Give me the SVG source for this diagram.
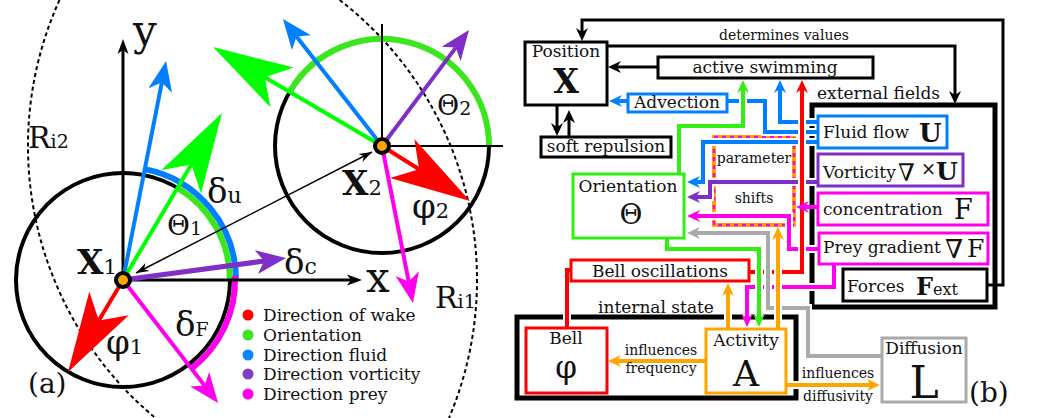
<svg xmlns="http://www.w3.org/2000/svg" width="1037" height="418" viewBox="0 0 1037 418">
<style>
text{font-family:"DejaVu Serif","Liberation Serif",serif;fill:#111}
.s17{font-size:17px}
.s14{font-size:14px}
.c{text-anchor:middle}
.bf{font-weight:bold}
.halo{fill:none;stroke:#fff;stroke-width:8}
.w{fill:none;stroke-width:4}
.wb{fill:none;stroke:#000;stroke-width:3}
.box{fill:#fff;stroke-width:3}
.frame{fill:none;stroke:#000;stroke-width:5}
.arrowA{fill:none;stroke-width:4}
</style>
<defs>
<marker id="mBk" viewBox="0 -7 14 14" refX="5" refY="0" markerWidth="14" markerHeight="14" markerUnits="userSpaceOnUse" orient="auto"><path d="M13,0 L0,-6 L4,0 L0,6 Z" fill="#000"/></marker>
<marker id="mBl" viewBox="0 -7 14 14" refX="5" refY="0" markerWidth="14" markerHeight="14" markerUnits="userSpaceOnUse" orient="auto"><path d="M13,0 L0,-6 L4,0 L0,6 Z" fill="#0080ff"/></marker>
<marker id="mGr" viewBox="0 -7 14 14" refX="5" refY="0" markerWidth="14" markerHeight="14" markerUnits="userSpaceOnUse" orient="auto"><path d="M13,0 L0,-6 L4,0 L0,6 Z" fill="#33ee11"/></marker>
<marker id="mPu" viewBox="0 -7 14 14" refX="5" refY="0" markerWidth="14" markerHeight="14" markerUnits="userSpaceOnUse" orient="auto"><path d="M13,0 L0,-6 L4,0 L0,6 Z" fill="#7f2fc8"/></marker>
<marker id="mMa" viewBox="0 -7 14 14" refX="5" refY="0" markerWidth="14" markerHeight="14" markerUnits="userSpaceOnUse" orient="auto"><path d="M13,0 L0,-6 L4,0 L0,6 Z" fill="#ff00ee"/></marker>
<marker id="mRd" viewBox="0 -7 14 14" refX="5" refY="0" markerWidth="14" markerHeight="14" markerUnits="userSpaceOnUse" orient="auto"><path d="M13,0 L0,-6 L4,0 L0,6 Z" fill="#ff0000"/></marker>
<marker id="mOr" viewBox="0 -7 14 14" refX="5" refY="0" markerWidth="14" markerHeight="14" markerUnits="userSpaceOnUse" orient="auto"><path d="M13,0 L0,-6 L4,0 L0,6 Z" fill="#ffa500"/></marker>
<marker id="mGy" viewBox="0 -7 14 14" refX="5" refY="0" markerWidth="14" markerHeight="14" markerUnits="userSpaceOnUse" orient="auto"><path d="M13,0 L0,-6 L4,0 L0,6 Z" fill="#aaaaaa"/></marker>
<marker id="aBigG" viewBox="-20 -23 80 46" refX="0" refY="0" markerWidth="80" markerHeight="46" markerUnits="userSpaceOnUse" orient="auto"><path d="M60,0 L-20,-23 L0,0 L-20,23 Z" fill="#00ff00"/></marker>
<marker id="aBigR" viewBox="-20 -23 80 46" refX="0" refY="0" markerWidth="80" markerHeight="46" markerUnits="userSpaceOnUse" orient="auto"><path d="M60,0 L-20,-23 L0,0 L-20,23 Z" fill="#ff0000"/></marker>
<marker id="aBl" viewBox="-8 -12 30 24" refX="0" refY="0" markerWidth="30" markerHeight="24" markerUnits="userSpaceOnUse" orient="auto"><path d="M22,0 L-8,-12 L0,0 L-8,12 Z" fill="#0080ff"/></marker>
<marker id="aPu" viewBox="-8 -12 30 24" refX="0" refY="0" markerWidth="30" markerHeight="24" markerUnits="userSpaceOnUse" orient="auto"><path d="M22,0 L-8,-12 L0,0 L-8,12 Z" fill="#7f2fc8"/></marker>
<marker id="aMa" viewBox="-8 -12 30 24" refX="0" refY="0" markerWidth="30" markerHeight="24" markerUnits="userSpaceOnUse" orient="auto"><path d="M22,0 L-8,-12 L0,0 L-8,12 Z" fill="#ff00ee"/></marker>
<marker id="aAx" viewBox="-4 -6 15 12" refX="0" refY="0" markerWidth="15" markerHeight="12" markerUnits="userSpaceOnUse" orient="auto"><path d="M11,0 L-4,-5.5 L0,0 L-4,5.5 Z" fill="#000"/></marker>
<marker id="aThin" viewBox="-13 -5 13 10" refX="0" refY="0" markerWidth="13" markerHeight="10" markerUnits="userSpaceOnUse" orient="auto-start-reverse"><path d="M0,0 L-13,-4.5 L-9,0 L-13,4.5 Z" fill="#000"/></marker>
</defs>

<g id="panel-a">
  <g id="interaction-ranges" fill="none" stroke="#000" stroke-width="2" stroke-dasharray="4 3">
    <path d="M59.5,0 A354,354 0 0 0 155.4,418"/>
    <path d="M339.6,0 A354,354 0 0 1 449,418"/>
  </g>
  <g id="body-circles" fill="none" stroke="#000" stroke-width="4">
    <circle cx="123" cy="280" r="107"/>
    <circle cx="382" cy="146" r="107"/>
  </g>
  <g id="angle-arcs" fill="none" stroke-width="6">
    <path d="M144.8,169.1 A113,113 0 0 1 236,280" stroke="#0080ff"/>
    <path d="M177.6,188 A107,107 0 0 1 230,280" stroke="#3ce61e"/>
    <path d="M235,276 A112,112 0 0 1 191.5,368.6" stroke="#ff00ee"/>
    <path d="M289.7,91.8 A107,107 0 0 1 489,146" stroke="#3ce61e"/>
  </g>
  <g id="axes" fill="none" stroke="#000">
    <path d="M123,280 V50" stroke-width="3" marker-end="url(#aAx)"/>
    <path d="M123,280 H351" stroke-width="3" marker-end="url(#aAx)"/>
    <path d="M382,146 V24 M382,146 H503" stroke-width="2"/>
    <path d="M136,273 L372,152" stroke-width="1.5" marker-start="url(#aThin)" marker-end="url(#aThin)"/>
  </g>
  <g id="direction-arrows" class="arrowA">
    <path d="M123,280 L161.8,82.6" stroke="#0080ff" marker-end="url(#aBl)"/>
    <path d="M123,280 L191.4,164.6" stroke="#00ff00" marker-end="url(#aBigG)"/>
    <path d="M123,280 L264.2,261" stroke="#7f2fc8" stroke-width="5" marker-end="url(#aPu)"/>
    <path d="M123,280 L98.8,320.5" stroke="#ff0000" marker-end="url(#aBigR)"/>
    <path d="M123,280 L204.6,385.6" stroke="#ff00ee" marker-end="url(#aMa)"/>
    <path d="M382,146 L296.5,36.4" stroke="#0080ff" marker-end="url(#aBl)"/>
    <path d="M382,146 L264.8,77.3" stroke="#00ff00" marker-end="url(#aBigG)"/>
    <path d="M382,146 L455.8,47.6" stroke="#7f2fc8" marker-end="url(#aPu)"/>
    <path d="M382,146 L419.1,169.2" stroke="#ff0000" marker-end="url(#aBigR)"/>
    <path d="M382,146 L408.7,281.4" stroke="#ff00ee" marker-end="url(#aMa)"/>
  </g>
  <g id="positions" fill="#ffa500" stroke="#000" stroke-width="4">
    <circle cx="123" cy="280" r="7"/>
    <circle cx="382" cy="146" r="7"/>
  </g>
  <g id="labels-a">
    <text x="133" y="45" font-size="42">y</text>
    <text x="366" y="292" font-size="42">x</text>
    <text x="28" y="148" font-size="30">R<tspan font-size="19">i2</tspan></text>
    <text x="435" y="308" font-size="30">R<tspan font-size="19">i1</tspan></text>
    <text x="77" y="274" font-size="34" class="bf">X<tspan font-size="21" font-weight="normal">1</tspan></text>
    <text x="342" y="195" font-size="34" class="bf">X<tspan font-size="21" font-weight="normal">2</tspan></text>
    <text x="167" y="235" font-size="28">Θ<tspan font-size="19">1</tspan></text>
    <text x="437" y="115" font-size="27">Θ<tspan font-size="19">2</tspan></text>
    <text x="207" y="203" font-size="34">δ<tspan font-size="22">u</tspan></text>
    <text x="284" y="274" font-size="34">δ<tspan font-size="22">c</tspan></text>
    <text x="175" y="336" font-size="34">δ<tspan font-size="19">F</tspan></text>
    <text x="106" y="354" font-size="34">φ<tspan font-size="21">1</tspan></text>
    <text x="412" y="218" font-size="34">φ<tspan font-size="21">2</tspan></text>
    <text x="28" y="393" font-size="28">(a)</text>
  </g>
  <g id="legend">
    <circle cx="248" cy="315" r="5.5" fill="#ff0000"/>
    <circle cx="248" cy="335" r="5.5" fill="#3ce61e"/>
    <circle cx="248" cy="355" r="5.5" fill="#0a84ff"/>
    <circle cx="248" cy="374" r="5.5" fill="#7f3fc4"/>
    <circle cx="248" cy="394" r="5.5" fill="#ff00ee"/>
    <text class="s17" x="263" y="321">Direction of wake</text>
    <text class="s17" x="263" y="341">Orientation</text>
    <text class="s17" x="263" y="361">Direction fluid</text>
    <text class="s17" x="263" y="380">Direction vorticity</text>
    <text class="s17" x="263" y="400">Direction prey</text>
  </g>
</g>

<g id="panel-b">
  <g id="frames">
    <rect id="external-fields-frame" class="frame" x="812" y="105" width="183" height="202"/>
    <rect id="internal-state-frame" class="frame" x="517" y="317" width="279" height="81"/>
    <g id="parameter-shifts">
      <rect x="714" y="137" width="80" height="88" fill="none" stroke="#ffa500" stroke-width="4"/>
      <rect x="714" y="137" width="80" height="88" fill="none" stroke="#ff00ee" stroke-width="2.5" stroke-dasharray="4 4"/>
    </g>
  </g>

  <g id="connectors">
    <path class="halo" d="M818,122 H780 V88"/>
    <path class="w" stroke="#0080ff" d="M818,122 H780 V88" marker-end="url(#mBl)"/>
    <path class="halo" d="M818,132 H765 V103 H727"/>
    <path class="w" stroke="#0080ff" d="M818,132 H765 V101 H727"/>
    <path class="w" stroke="#0080ff" d="M628,101 H617" marker-end="url(#mBl)"/>
    <path class="halo" d="M818,142 H703 V182 H695"/>
    <path class="w" stroke="#0080ff" d="M818,142 H703 V182 H695" marker-end="url(#mBl)"/>
    <path class="halo" d="M818,182 H710 V197 H695"/>
    <path class="w" stroke="#7f2fc8" d="M818,182 H710 V197 H695" marker-end="url(#mPu)"/>
    <path class="halo" stroke-width="7" d="M819,249 H789 V216 H695"/>
    <path class="w" stroke="#ff00ee" d="M819,249 H789 V216 H695" marker-end="url(#mMa)"/>
    <path class="halo" d="M834,264 V287 H747 V319"/>
    <path class="w" stroke="#ff00ee" d="M834,264 V287 H747 V319" marker-end="url(#mMa)"/>
    <path class="halo" d="M749,272 H802 V88"/>
    <path class="w" stroke="#ff0000" d="M749,272 H802 V88" marker-end="url(#mRd)"/>
    <path class="halo" d="M571,270 H567 V328"/>
    <path class="w" stroke="#ff0000" d="M571,270 H567 V328"/>
    <path class="w" stroke="#ff00ee" d="M818,207 H804" marker-end="url(#mMa)"/>
    <path class="halo" d="M679,174 V126 H743 V88"/>
    <path class="w" stroke="#33ee11" d="M679,174 V126 H743 V88" marker-end="url(#mGr)"/>
    <path class="halo" d="M667,238 V249 H759 V319"/>
    <path class="w" stroke="#33ee11" d="M667,238 V249 H759 V319" marker-end="url(#mGr)"/>
    <path class="halo" d="M882,356 H808 V308 H768 V233 H695"/>
    <path class="w" stroke="#aaaaaa" d="M882,356 H808 V308 H768 V233 H695" marker-end="url(#mGy)"/>
    <path class="halo" d="M778,329 V235"/>
    <path class="w" stroke="#ffa500" d="M778,329 V235" marker-end="url(#mOr)"/>
    <path class="halo" d="M728,329 V291"/>
    <path class="w" stroke="#ffa500" d="M728,329 V291" marker-end="url(#mOr)"/>
    <path class="w" stroke="#ffa500" d="M706,361 H616" marker-end="url(#mOr)"/>
    <path class="halo" d="M786,385 H872"/>
    <path class="w" stroke="#ffa500" d="M786,385 H872" marker-end="url(#mOr)"/>
    <path class="wb" d="M658,67 H616" marker-end="url(#mBk)"/>
    <path class="wb" d="M988,285 H1003 V20 H582 V33" marker-end="url(#mBk)"/>
    <path class="wb" d="M607,46 H955 V96" marker-end="url(#mBk)"/>
    <path class="wb" d="M557,105 V128" marker-end="url(#mBk)"/>
    <path class="wb" d="M569,137 V118" marker-end="url(#mBk)"/>
  </g>

  <g id="node-position"><rect class="box" stroke="#000" x="525" y="42" width="82" height="63"/>
    <text class="s17 c" x="566" y="57">Position</text><text class="c bf" x="566" y="93" font-size="33">X</text></g>
  <g id="node-soft-repulsion"><rect class="box" stroke="#000" x="541" y="137" width="130" height="20"/>
    <text class="s17 c" x="606" y="152">soft repulsion</text></g>
  <g id="node-active-swimming"><rect class="box" stroke="#000" x="658" y="57" width="215" height="21"/>
    <text class="s17 c" x="765" y="73">active swimming</text></g>
  <g id="node-advection"><rect class="box" stroke="#0080ff" x="628" y="94" width="99" height="18"/>
    <text class="s17 c" x="677" y="108">Advection</text></g>
  <g id="node-orientation"><rect class="box" stroke="#33ee11" x="573" y="174" width="111" height="64"/>
    <text class="s17 c" x="628" y="192">Orientation</text><text class="c" x="631" y="224" font-size="28">Θ</text></g>
  <g id="node-fluid"><rect class="box" stroke="#0080ff" x="818" y="116" width="129" height="32"/>
    <text class="s17" x="823" y="138">Fluid flow<tspan x="919" y="142" font-size="26" font-weight="bold">U</tspan></text></g>
  <g id="node-vorticity"><rect class="box" stroke="#7f2fc8" x="818" y="154" width="145" height="32"/>
    <text class="s17" x="823" y="178">Vorticity<tspan x="898" y="181" font-size="24">∇</tspan><tspan x="921" y="175" font-size="18">×</tspan><tspan x="936" y="180" font-size="25" font-weight="bold">U</tspan></text></g>
  <g id="node-concentration"><rect class="box" stroke="#ff00ee" x="818" y="193" width="170" height="32"/>
    <text class="s17" x="823" y="215">concentration<tspan x="954" y="219" font-size="27">F</tspan></text></g>
  <g id="node-prey-gradient"><rect class="box" stroke="#ff00ee" x="819" y="233" width="169" height="31"/>
    <text class="s17" x="823" y="253">Prey gradient<tspan x="945" y="258" font-size="26">∇</tspan><tspan x="967" y="257" font-size="25">F</tspan></text></g>
  <g id="node-forces"><rect class="box" stroke="#000" x="843" y="269" width="144" height="32"/>
    <text class="s17" x="847" y="292">Forces<tspan x="916" y="295" font-size="24" font-weight="bold">F</tspan><tspan font-size="16">ext</tspan></text></g>
  <g id="node-bell-oscillations"><rect class="box" stroke="#ff0000" x="571" y="260" width="178" height="21"/>
    <text class="s17 c" x="660" y="277">Bell oscillations</text></g>
  <g id="node-bell"><rect class="box" stroke="#ff0000" x="526" y="328" width="81" height="65"/>
    <text class="s17 c" x="566" y="344">Bell</text><text class="c" x="566" y="378" font-size="31">φ</text></g>
  <g id="node-activity"><rect class="box" stroke="#ffa500" x="706" y="329" width="80" height="64"/>
    <text class="s17 c" x="746" y="346">Activity</text><text class="c" x="746" y="386" font-size="36">A</text></g>
  <g id="node-diffusion"><rect class="box" stroke="#aaaaaa" x="882" y="338" width="84" height="64"/>
    <text class="s17 c" x="924" y="354">Diffusion</text><text class="c" x="924" y="398" font-size="44">L</text></g>

  <g id="labels-b">
    <text class="s14 c" x="784" y="40">determines values</text>
    <text class="s17" x="817" y="99">external fields</text>
    <text class="s17" x="598" y="313">internal state</text>
    <text class="s14 c" x="754" y="163">parameter</text>
    <text class="s14 c" x="754" y="203">shifts</text>
    <text class="s14 c" x="661" y="355">influences</text>
    <text class="s14 c" x="661" y="373">frequency</text>
    <text class="s14 c" x="838" y="378">influences</text>
    <text class="s14 c" x="838" y="401">diffusivity</text>
    <text x="969" y="402" font-size="28">(b)</text>
  </g>
</g>
</svg>
